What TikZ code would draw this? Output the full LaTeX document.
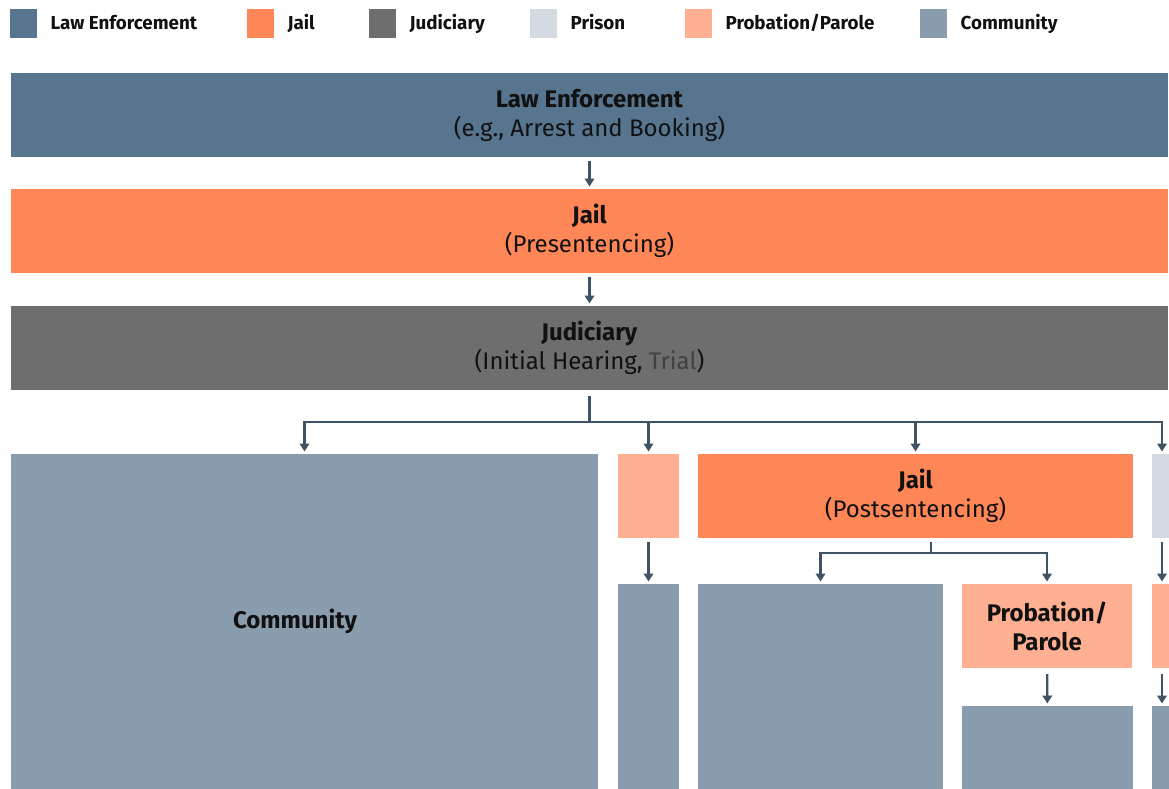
\documentclass[tikz,border=0pt]{standalone}
\usepackage{fontspec}
\setmainfont{Fira Sans}
\usetikzlibrary{positioning,arrows.meta}
\definecolor{lawc}{HTML}{57758F}
\definecolor{jailc}{HTML}{FF8657}
\definecolor{judc}{HTML}{6E6E6E}
\definecolor{prisonc}{HTML}{D3DAE1}
\definecolor{probc}{HTML}{FFB093}
\definecolor{commc}{HTML}{8A9DAE}
\definecolor{arrowc}{HTML}{3E5466}
\definecolor{inkc}{HTML}{111111}

\begin{document}
\begin{tikzpicture}[
    x=1pt, y=-1pt,
    blk/.style={anchor=north west, inner sep=0pt, outer sep=0pt, align=center, text=inkc,
        font=\fontsize{24}{29}\selectfont},
    key/.style={anchor=north west, inner sep=0pt, minimum width=27pt, minimum height=29pt},
    keytxt/.style={inner sep=0pt, text=inkc, text height=1.5ex, text depth=.3ex, yshift=-3pt,
        font=\bfseries\fontsize{18.8}{20}\selectfont},
    flow/.style={-{Triangle[length=8pt, width=9.5pt]}, line width=2.4pt, draw=arrowc,
        shorten <=3.5pt, shorten >=2.5pt},
    tie/.style={line width=2.4pt, draw=arrowc}
]
\useasboundingbox (0,0) rectangle (1169,788);

% legend
\node[key, fill=lawc] (kLaw) at (10,9) {};
\node[keytxt, right=13pt of kLaw] {Law Enforcement};
\node[key, fill=jailc] (kJail) at (247,9) {};
\node[keytxt, right=13pt of kJail] {Jail};
\node[key, fill=judc] (kJud) at (369,9) {};
\node[keytxt, right=13pt of kJud] {Judiciary};
\node[key, fill=prisonc] (kPrison) at (530,9) {};
\node[keytxt, right=13pt of kPrison] {Prison};
\node[key, fill=probc] (kProb) at (685,9) {};
\node[keytxt, right=13pt of kProb] {Probation/Parole};
\node[key, fill=commc] (kComm) at (920,9) {};
\node[keytxt, right=13pt of kComm] {Community};

% main chain
\node[blk, fill=lawc, minimum width=1157pt, minimum height=84pt] (law) at (11,73)
    {\textbf{Law Enforcement}\\(e.g., Arrest and Booking)};
\node[blk, fill=jailc, minimum width=1157pt, minimum height=84pt] (jail1) at (11,189)
    {\textbf{Jail}\\(Presentencing)};
\node[blk, fill=judc, minimum width=1157pt, minimum height=84pt] (jud) at (11,306)
    {\textbf{Judiciary}\\(Initial Hearing, \textcolor{inkc!80}{Trial})};

% sentencing outcomes
\node[blk, fill=commc, minimum width=587pt, minimum height=336pt] (comm1) at (11,454) {};
\node[font=\bfseries\fontsize{24}{29}\selectfont, text=inkc] (commtxt) at (295,621) {Community};
\node[blk, fill=probc, minimum width=61pt, minimum height=84pt] (prob1) at (618,454) {};
\node[blk, fill=commc, minimum width=61pt, minimum height=206pt] (comm1b) at (618,584) {};
\node[blk, fill=jailc, minimum width=435pt, minimum height=84pt] (jail2) at (698,454)
    {\textbf{Jail}\\(Postsentencing)};
\node[blk, fill=commc, minimum width=245pt, minimum height=206pt] (comm2) at (698,584) {};
\node[blk, fill=probc, minimum width=170pt, minimum height=84pt] (prob2) at (962,584)
    {\textbf{Probation/}\\\textbf{Parole}};
\node[blk, fill=commc, minimum width=171pt, minimum height=84pt] (comm3) at (962,706) {};
\node[blk, fill=prisonc, minimum width=20pt, minimum height=84pt] (prison) at (1152,454) {};
\node[blk, fill=probc, minimum width=20pt, minimum height=84pt] (prob3) at (1152,584) {};
\node[blk, fill=commc, minimum width=20pt, minimum height=84pt] (comm4) at (1152,706) {};

\coordinate (split) at (589.5,422);
\coordinate (split2) at (931,553);

% connectors
\draw[flow] (law) -- (jail1);
\draw[flow] (jail1) -- (jud);
\draw[tie, shorten <=6pt] (jud) -- (split);
\draw[flow, shorten <=0pt] (split) -| (comm1);
\draw[flow, shorten <=0pt] (split) -| (prob1);
\draw[flow, shorten <=0pt] (split) -| (jail2);
\draw[flow, shorten <=0pt] (split) -| (prison);
\draw[flow] (prob1) -- (comm1b);
\draw[tie, shorten <=4pt] (jail2.south -| split2) -- (split2);
\draw[flow, shorten <=0pt] (split2) -| (comm2);
\draw[flow, shorten <=0pt] (split2) -| (prob2);
\draw[flow, shorten <=6pt] (prob2) -- (comm3);
\draw[flow] (prison) -- (prob3);
\draw[flow, shorten <=6pt] (prob3) -- (comm4);

\end{tikzpicture}
\end{document}
